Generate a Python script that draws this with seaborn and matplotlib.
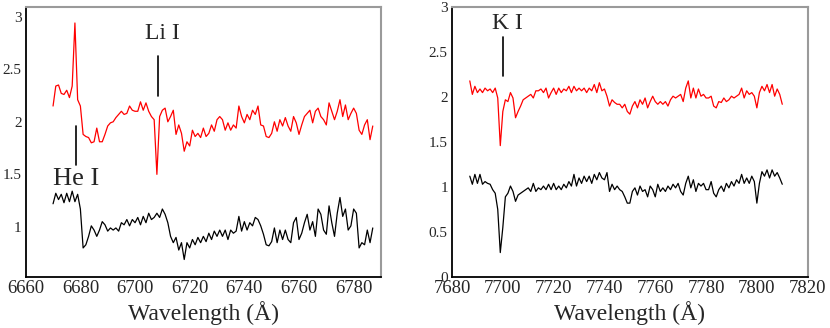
"""Two-panel optical spectrum: He I / Li I region and K I region."""

import matplotlib

matplotlib.use("Agg")
import matplotlib.pyplot as plt
import numpy as np
import pandas as pd
import seaborn as sns
from matplotlib.ticker import FormatStrFormatter, MultipleLocator

# --- data (1 Angstrom steps) ---
wave_li = np.arange(6670, 6788)
flux_li_red = [
    2.15, 2.34, 2.35, 2.27, 2.26, 2.30, 2.23, 2.34, 2.94, 2.21,
    2.15, 1.88, 1.86, 1.85, 1.80, 1.81, 1.94, 1.81, 1.81, 1.88,
    1.96, 1.99, 2.00, 2.04, 2.07, 2.10, 2.07, 2.08, 2.15, 2.11,
    2.10, 2.10, 2.19, 2.11, 2.18, 2.10, 2.05, 2.02, 1.50, 2.05,
    2.11, 2.13, 2.00, 2.05, 2.11, 1.88, 1.97, 1.89, 1.72, 1.81,
    1.77, 1.92, 1.86, 1.89, 1.85, 1.94, 1.86, 1.89, 1.97, 1.91,
    2.02, 2.05, 2.02, 1.92, 1.99, 1.92, 1.97, 1.94, 2.15, 2.05,
    1.99, 2.07, 2.02, 2.11, 2.07, 2.15, 1.97, 1.96, 1.86, 1.85,
    1.89, 2.00, 1.91, 2.02, 1.96, 2.04, 1.96, 1.91, 2.05, 1.99,
    1.88, 1.97, 2.05, 2.08, 2.11, 1.99, 2.10, 2.13, 2.05, 2.02,
    1.97, 2.18, 2.10, 2.02, 2.10, 2.21, 2.05, 2.16, 2.02, 2.08,
    2.13, 2.08, 1.92, 1.88, 1.97, 2.02, 1.83, 1.96,
]
flux_li_black = [
    1.22, 1.32, 1.26, 1.31, 1.23, 1.32, 1.24, 1.34, 1.24, 1.31,
    1.17, 0.80, 0.83, 0.91, 1.01, 0.97, 0.91, 0.97, 1.05, 1.02,
    0.96, 0.99, 0.97, 0.99, 0.96, 1.04, 1.02, 1.07, 1.01, 1.07,
    1.04, 1.09, 1.02, 1.10, 1.04, 1.13, 1.07, 1.09, 1.13, 1.09,
    1.17, 1.12, 1.04, 0.91, 0.85, 0.90, 0.78, 0.85, 0.69, 0.85,
    0.80, 0.88, 0.83, 0.90, 0.85, 0.91, 0.86, 0.94, 0.88, 0.96,
    0.91, 0.97, 0.91, 0.97, 0.88, 0.97, 0.94, 0.96, 1.10, 0.96,
    1.05, 0.97, 1.04, 1.01, 1.09, 1.07, 1.01, 0.93, 0.83, 0.82,
    0.86, 0.99, 0.85, 0.97, 0.88, 0.97, 0.88, 0.85, 1.04, 1.09,
    0.88, 0.94, 1.04, 1.12, 0.97, 1.05, 0.91, 1.17, 1.12, 0.97,
    0.93, 1.20, 1.04, 0.91, 1.13, 1.28, 1.10, 1.17, 0.97, 1.01,
    1.17, 1.13, 0.80, 0.85, 0.83, 0.97, 0.85, 0.99,
]

wave_k = np.arange(7687, 7811)
flux_k_red = [
    2.18, 2.03, 2.12, 2.05, 2.09, 2.05, 2.10, 2.07, 2.09, 2.05,
    2.10, 1.99, 1.46, 1.84, 1.97, 1.95, 2.05, 1.99, 1.77, 1.84,
    1.90, 1.97, 1.99, 2.01, 2.03, 1.99, 2.07, 2.07, 2.09, 2.05,
    2.10, 1.99, 2.05, 2.10, 2.03, 2.10, 2.05, 2.09, 2.07, 2.12,
    2.05, 2.12, 2.07, 2.10, 2.07, 2.10, 2.05, 2.10, 2.07, 2.14,
    2.05, 2.16, 2.07, 2.09, 2.01, 1.90, 1.97, 1.94, 1.92, 1.92,
    1.88, 1.92, 1.84, 1.81, 1.90, 1.95, 1.88, 1.97, 1.92, 1.99,
    1.88, 1.95, 2.01, 1.95, 1.92, 1.95, 1.92, 1.95, 1.90, 1.97,
    2.01, 1.99, 2.01, 2.03, 1.95, 2.10, 2.18, 1.99, 2.10, 1.99,
    2.09, 2.01, 2.03, 1.99, 1.99, 2.01, 1.90, 1.88, 1.95, 1.94,
    1.99, 1.95, 1.97, 2.01, 1.99, 2.01, 2.03, 2.10, 1.99, 2.07,
    2.03, 2.05, 2.01, 1.88, 2.05, 2.12, 2.07, 2.14, 2.05, 2.14,
    2.01, 2.09, 2.03, 1.92,
]
flux_k_black = [
    1.12, 1.03, 1.14, 1.04, 1.14, 1.03, 1.06, 1.04, 1.03, 0.97,
    0.93, 0.75, 0.27, 0.55, 0.89, 0.93, 1.01, 0.95, 0.84, 0.91,
    0.93, 0.95, 0.97, 0.99, 0.95, 1.04, 0.95, 0.99, 0.97, 1.01,
    0.97, 1.03, 0.97, 1.04, 0.97, 1.01, 0.97, 1.03, 0.99, 1.06,
    1.01, 1.14, 1.01, 1.10, 1.04, 1.12, 1.06, 1.12, 1.04, 1.14,
    1.08, 1.16, 1.10, 1.08, 1.16, 0.95, 1.03, 0.97, 1.01, 0.97,
    0.95, 0.89, 0.82, 0.82, 0.95, 0.99, 0.91, 1.01, 0.95, 0.97,
    0.89, 1.01, 0.97, 0.89, 1.03, 0.95, 0.99, 0.95, 1.01, 0.97,
    1.03, 0.99, 1.04, 0.95, 0.91, 1.04, 1.12, 0.99, 1.08, 0.95,
    1.04, 1.01, 1.04, 0.97, 0.97, 1.06, 0.93, 0.89, 0.97, 1.01,
    0.95, 1.04, 0.99, 1.06, 1.01, 1.08, 1.04, 1.14, 1.04, 1.10,
    1.04, 1.12, 1.06, 0.82, 1.04, 1.17, 1.12, 1.19, 1.10, 1.19,
    1.12, 1.16, 1.10, 1.03,
]

# line identifications: (label, wavelength of tick, tick bottom, tick top, text x, text y, size)
lines_li = [
    ("Li I", 6708.4, 2.25, 2.63, 6710.0, 2.79, 17),
    ("He I", 6678.4, 1.59, 1.96, 6678.3, 1.40, 19),
]
lines_k = [
    ("K I", 7700.0, 2.23, 2.67, 7702.0, 2.755, 17),
]

SERIES_COLORS = {"red": "#ff0000", "black": "#000000"}


def _style_axis(ax, xlim, ylim):
    ax.set_xlim(*xlim)
    ax.set_ylim(*ylim)
    ax.xaxis.set_major_locator(MultipleLocator(20))
    ax.xaxis.set_minor_locator(MultipleLocator(10))
    ax.yaxis.set_major_locator(MultipleLocator(0.5))
    ax.yaxis.set_minor_locator(MultipleLocator(0.25))
    ax.yaxis.set_major_formatter(FormatStrFormatter("%g"))
    ax.tick_params(axis="both", which="both", direction="in", top=False, right=False,
                   color="black", width=1.0)
    ax.tick_params(axis="both", which="major", length=7)
    ax.tick_params(axis="both", which="minor", length=5)
    ax.tick_params(axis="x", labelsize=13.5, pad=2)
    ax.tick_params(axis="y", labelsize=11, pad=3)
    for side in ("left", "bottom"):
        ax.spines[side].set_color("black")
        ax.spines[side].set_linewidth(1.3)
    for side in ("top", "right"):
        ax.spines[side].set_visible(True)
        ax.spines[side].set_color("#9a9a9a")
        ax.spines[side].set_linewidth(1.5)
    ax.set_xlabel("Wavelength (Å)", fontsize=17, labelpad=3)
    ax.set_ylabel("")
    ax.grid(False)


def _draw_panel(ax, wave, red, black, idents):
    df = pd.concat([
        pd.DataFrame({"wave": wave, "flux": red, "series": "red"}),
        pd.DataFrame({"wave": wave, "flux": black, "series": "black"}),
    ], ignore_index=True)
    sns.lineplot(data=df, x="wave", y="flux", hue="series", palette=SERIES_COLORS,
                 linewidth=0.9, legend=False, ax=ax, sort=False, estimator=None)
    for label, lw, y0, y1, tx, ty, size in idents:
        ax.plot([lw, lw], [y0, y1], color="black", linewidth=1.2)
        ax.text(tx, ty, label, ha="center", va="baseline", fontsize=size)


def main():
    sns.set_style("white")
    plt.rcParams["font.family"] = ["Liberation Serif", "DejaVu Serif"]
    plt.rcParams["mathtext.fontset"] = "stix"

    fig = plt.figure(figsize=(8.30, 3.28), dpi=100)
    ax_l = fig.add_axes([0.031, 0.156, 0.428, 0.822])
    ax_r = fig.add_axes([0.5446, 0.156, 0.4285, 0.822])

    _draw_panel(ax_l, wave_li, flux_li_red, flux_li_black, lines_li)
    _style_axis(ax_l, (6660, 6790), (0.525, 3.09))

    _draw_panel(ax_r, wave_k, flux_k_red, flux_k_black, lines_k)
    _style_axis(ax_r, (7680, 7820), (0, 3))

    fig.savefig("out.png", dpi=100)
    plt.close(fig)


if __name__ == "__main__":
    main()
